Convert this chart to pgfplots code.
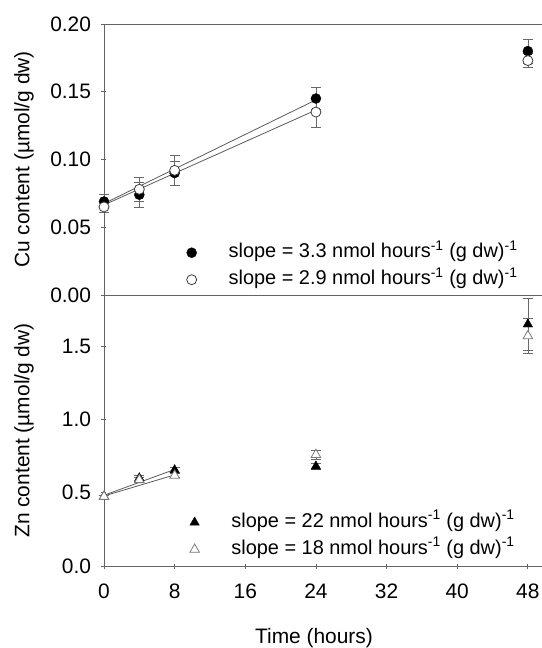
\documentclass[border=0pt]{standalone}
\usepackage{pgfplots}
\pgfplotsset{compat=1.18}
\usepackage{fontspec}
\setmainfont{Liberation Sans}

\definecolor{caxis}{RGB}{100,100,100}
\definecolor{cline}{RGB}{90,90,90}
\definecolor{cerr}{RGB}{105,105,105}
\definecolor{copen}{RGB}{60,60,60}
\definecolor{ctri}{RGB}{120,120,120}

\begin{document}
\begin{tikzpicture}[font=\fontsize{20}{24}\selectfont]
\pgfplotsset{
  panel/.style={
    scale only axis, width=438bp, height=271bp,
    xmin=0, xmax=49.6, clip=false,
    tick style={caxis, line width=0.8pt},
    tick align=outside, major tick length=5bp,
    /pgf/number format/assume math mode=true,
    ticklabel style={font=\fontsize{21}{25}\selectfont},
    yticklabel style={xshift=-7bp},
    xticklabel style={yshift=-12bp},
    ylabel style={at={(axis description cs:-0.1826,0.5)}, anchor=center},
    legend cell align=left,
    legend style={draw=none, fill=none, inner sep=0pt, row sep=9bp,
                  column sep=32bp,
                  nodes={inner sep=0pt, text height=14bp, text depth=4bp},
                  font=\fontsize{20}{24}\selectfont},
  },
  noarrows/.style={
    axis line style={caxis, line width=0.8pt, -},
    every inner x axis line/.append style={-},
    every outer x axis line/.append style={-},
    every inner y axis line/.append style={-},
    every outer y axis line/.append style={-},
  },
  ebar/.style={error bars/.cd, y dir=both, y explicit,
    error bar style={cerr, line width=0.7pt},
    error mark options={rotate=90, cerr, mark size=5bp, line width=0.7pt}},
}

% Zn panel (bottom)
\begin{axis}[panel, at={(0,0)}, anchor=south west,
  ymin=0, ymax=1.85,
  axis x line=bottom, axis y line=left, noarrows,
  xtick={0,8,16,24,32,40,48},
  ytick={0,0.5,1,1.5},
  yticklabel style={/pgf/number format/.cd, fixed, fixed zerofill, precision=1},
  xlabel={Time (hours)},
  xlabel style={at={(axis description cs:0.5,0)}, anchor=base,
                yshift=-77bp, xshift=-9bp, font=\fontsize{21}{25}\selectfont},
  ylabel={Zn content (µmol/g dw)},
  ylabel style={font=\fontsize{21}{25}\selectfont},
  legend style={at={(axis cs:9.7,0.05)}, anchor=south west},
]
  \addplot[cline, line width=0.8pt, forget plot] coordinates {(0,0.483) (8,0.659)};
  \addplot[cline, line width=0.8pt, forget plot] coordinates {(0,0.478) (8,0.622)};
  \addplot[only marks, mark=triangle*, mark size=5.5bp,
           mark options={fill=black, draw=black}, ebar]
    coordinates {(0,0.474) +- (0,0.01) (4,0.600) +- (0,0.02) (8,0.655) +- (0,0.02)
                 (24,0.680) +- (0,0.02) (48,1.650) +- (0,0.18)};
  \addlegendentry{slope = 22 nmol hours\textsuperscript{-1} (g dw)\textsuperscript{-1}}
  \addplot[only marks, mark=triangle*, mark size=5.5bp,
           mark options={fill=white, draw=ctri, line width=0.8pt}, ebar]
    coordinates {(0,0.474) +- (0,0.01) (4,0.588) +- (0,0.015) (8,0.618) +- (0,0.015)
                 (24,0.760) +- (0,0.03) (48,1.570) +- (0,0.12)};
  \addlegendentry{slope = 18 nmol hours\textsuperscript{-1} (g dw)\textsuperscript{-1}}
\end{axis}

% Cu panel (top)
\begin{axis}[panel, at={(0,271bp)}, anchor=south west,
  ymin=0, ymax=0.2,
  axis x line=box, axis y line=left, noarrows,
  xtick=\empty,
  ytick={0,0.05,0.1,0.15,0.2},
  yticklabel style={/pgf/number format/.cd, fixed, fixed zerofill, precision=2},
  ylabel={Cu content (µmol/g dw)},
  ylabel style={font=\fontsize{21}{25}\selectfont},
  legend style={at={(axis cs:9.34,0.0045)}, anchor=south west},
]
  \addplot[cline, line width=0.8pt, forget plot] coordinates {(0,0.0675) (24,0.1440)};
  \addplot[cline, line width=0.8pt, forget plot] coordinates {(0,0.0665) (24,0.1365)};
  \addplot[only marks, mark=*, mark size=5bp,
           mark options={fill=black, draw=black}, ebar]
    coordinates {(0,0.069) +- (0,0.005) (4,0.074) +- (0,0.009) (8,0.090) +- (0,0.009)
                 (24,0.145) +- (0,0.008) (48,0.180) +- (0,0.009)};
  \addlegendentry{slope = 3.3 nmol hours\textsuperscript{-1} (g dw)\textsuperscript{-1}}
  \addplot[only marks, mark=*, mark size=5bp,
           mark options={fill=white, draw=copen, line width=0.8pt}, ebar]
    coordinates {(0,0.065) +- (0,0.004) (4,0.078) +- (0,0.009) (8,0.092) +- (0,0.011)
                 (24,0.135) +- (0,0.011) (48,0.173) +- (0,0.005)};
  \addlegendentry{slope = 2.9 nmol hours\textsuperscript{-1} (g dw)\textsuperscript{-1}}
\end{axis}

\pgfresetboundingbox
\path (-104bp,-82bp) rectangle (438bp,566bp);
\end{tikzpicture}
\end{document}
